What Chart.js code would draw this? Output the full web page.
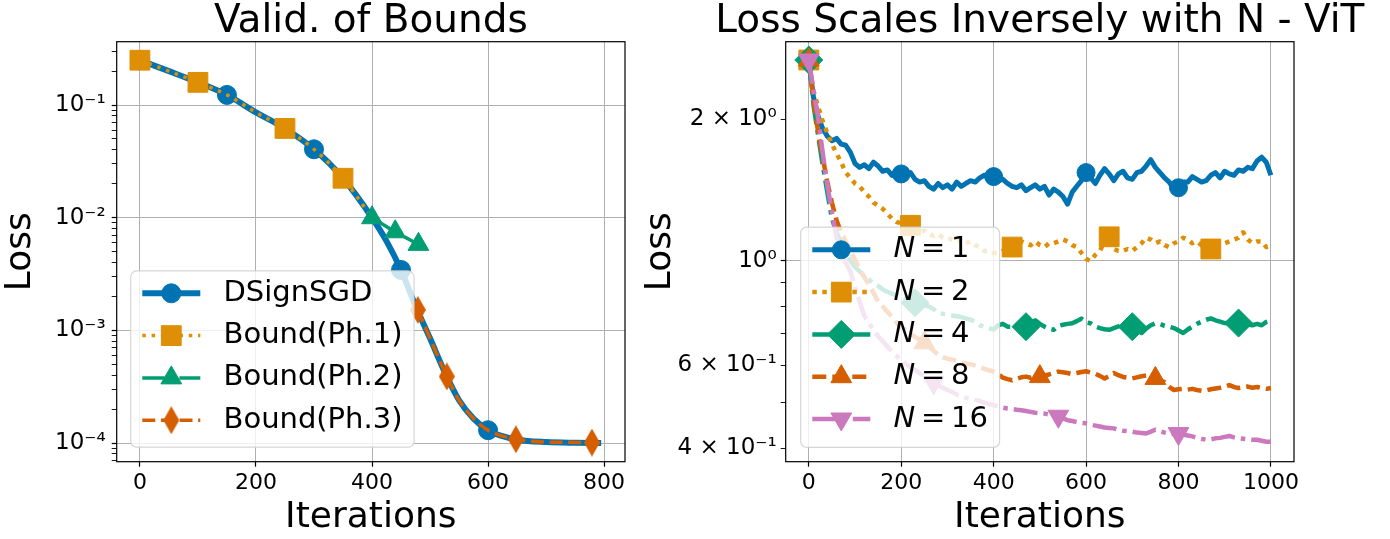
<!DOCTYPE html>
<html>
<head>
<meta charset="utf-8">
<script src="https://cdn.jsdelivr.net/npm/chart.js@4.4.1/dist/chart.umd.min.js"></script>
<style>
  html, body { margin: 0; padding: 0; background: #fff; overflow: hidden; }
  #wrap { position: relative; width: 1390px; height: 539px; overflow: hidden; background: #fff; }
  #leftChart { position: absolute; left: 0; top: 0; }
  #rightChart { position: absolute; left: 640px; top: 0; }
</style>
</head>
<body>
<div id="wrap">
  <canvas id="leftChart" width="640" height="539"></canvas>
  <canvas id="rightChart" width="750" height="539"></canvas>
</div>
<script>
// ---- 왼쪽: Valid. of Bounds ----
var signIters = [0, 50, 100, 150, 200, 250, 300, 350, 400, 425, 450, 475, 500, 525, 550, 575, 600, 625, 650, 700, 750, 795];
var signLoss = [0.25, 0.20, 0.159, 0.123, 0.086, 0.062, 0.0405, 0.0224, 0.0100, 0.0062, 0.00344, 0.00165, 0.00085, 0.00043, 0.00024, 0.000165, 0.00013, 0.000115, 0.000107, 0.000102, 0.0001005, 0.0001];
var ph1Iters = [0, 50, 100, 150, 200, 250, 300, 350, 400];
var ph1Loss = [0.25, 0.20, 0.159, 0.123, 0.086, 0.062, 0.0405, 0.0224, 0.0100];
var ph2Iters = [400, 440, 480];
var ph2Loss = [0.0100, 0.0075, 0.0058];
var ph3Iters = [479, 500, 529, 550, 575, 600, 648, 700, 779, 795];
var ph3Loss = [0.00152, 0.00085, 0.00039, 0.00024, 0.000165, 0.00013, 0.000108, 0.000102, 0.000101, 0.0001];

var signMarks = [0, 150, 300, 450, 600];
var ph1Marks = [0, 100, 250, 350];
var ph2Marks = [400, 440, 480];
var ph3Marks = [479, 529, 648, 779];

var xTicksL = [0, 200, 400, 600, 800];
var yTicksL = [1e-4, 1e-3, 1e-2, 1e-1];
var yLabelsL = ['10⁻⁴', '10⁻³', '10⁻²', '10⁻¹'];

// ---- 오른쪽: Loss Scales Inversely with N - ViT ----
var vitIters = [0, 10, 20, 30, 40, 50, 60, 70, 80, 90,
  100, 110, 120, 130, 140, 150, 160, 170, 180, 190,
  200, 210, 220, 230, 240, 250, 260, 270, 280, 290,
  300, 310, 320, 330, 340, 350, 360, 370, 380, 390,
  400, 410, 420, 430, 440, 450, 460, 470, 480, 490,
  500, 510, 520, 530, 540, 550, 560, 570, 580, 590,
  600, 610, 620, 630, 640, 650, 660, 670, 680, 690,
  700, 710, 720, 730, 740, 750, 760, 770, 780, 790,
  800, 810, 820, 830, 840, 850, 860, 870, 880, 890,
  900, 910, 920, 930, 940, 950, 960, 970, 980, 990,
  1000];
var lossN1 = [2.67, 2.23, 2.03, 1.91, 1.84, 1.80, 1.82, 1.77, 1.76, 1.70,
  1.61, 1.58, 1.60, 1.57, 1.62, 1.59, 1.55, 1.56, 1.52, 1.55,
  1.53, 1.51, 1.54, 1.49, 1.47, 1.48, 1.44, 1.42, 1.46, 1.43,
  1.45, 1.42, 1.47, 1.44, 1.46, 1.48, 1.47, 1.50, 1.52, 1.50,
  1.51, 1.48, 1.49, 1.46, 1.44, 1.43, 1.45, 1.41, 1.43, 1.45,
  1.42, 1.44, 1.38, 1.42, 1.40, 1.37, 1.32, 1.40, 1.44, 1.48,
  1.54, 1.50, 1.46, 1.52, 1.57, 1.53, 1.48, 1.53, 1.55, 1.50,
  1.49, 1.54, 1.55, 1.59, 1.64, 1.58, 1.54, 1.50, 1.47, 1.42,
  1.43, 1.47, 1.47, 1.51, 1.49, 1.47, 1.48, 1.52, 1.54, 1.50,
  1.55, 1.53, 1.52, 1.56, 1.55, 1.58, 1.57, 1.63, 1.66, 1.62,
  1.52];
var lossN2 = [2.67, 2.30, 2.13, 1.98, 1.87, 1.77, 1.69, 1.62, 1.54, 1.50,
  1.46, 1.44, 1.40, 1.37, 1.33, 1.31, 1.29, 1.26, 1.23, 1.21,
  1.20, 1.18, 1.19, 1.17, 1.15, 1.16, 1.14, 1.13, 1.14, 1.12,
  1.12, 1.11, 1.10, 1.11, 1.09, 1.10, 1.08, 1.07, 1.05, 1.05,
  1.04, 1.04, 1.05, 1.06, 1.07, 1.08, 1.10, 1.09, 1.08, 1.10,
  1.08, 1.07, 1.09, 1.09, 1.10, 1.11, 1.10, 1.08, 1.07, 1.04,
  1.01, 1.00, 1.03, 1.05, 1.10, 1.125, 1.06, 1.05, 1.05, 1.06,
  1.05, 1.07, 1.09, 1.12, 1.11, 1.09, 1.10, 1.08, 1.07, 1.09,
  1.10, 1.12, 1.11, 1.09, 1.10, 1.08, 1.07, 1.06, 1.08, 1.08,
  1.09, 1.10, 1.11, 1.12, 1.15, 1.11, 1.09, 1.10, 1.10, 1.07,
  1.08];
var lossN4 = [2.67, 2.15, 1.85, 1.60, 1.40, 1.23, 1.15, 1.09, 1.04, 1.00,
  0.97, 0.95, 0.93, 0.915, 0.895, 0.885, 0.87, 0.86, 0.852, 0.843,
  0.835, 0.828, 0.82, 0.815, 0.81, 0.805, 0.80, 0.79, 0.775, 0.772,
  0.77, 0.766, 0.763, 0.76, 0.755, 0.75, 0.742, 0.73, 0.725, 0.72,
  0.715, 0.73, 0.735, 0.725, 0.725, 0.73, 0.722, 0.725, 0.735, 0.748,
  0.735, 0.725, 0.718, 0.714, 0.728, 0.732, 0.735, 0.737, 0.745, 0.754,
  0.74, 0.737, 0.726, 0.72, 0.716, 0.714, 0.72, 0.726, 0.733, 0.73,
  0.725, 0.712, 0.703, 0.718, 0.73, 0.737, 0.735, 0.728, 0.725, 0.72,
  0.712, 0.703, 0.715, 0.725, 0.735, 0.743, 0.75, 0.755, 0.748, 0.743,
  0.738, 0.737, 0.742, 0.738, 0.74, 0.733, 0.73, 0.735, 0.73, 0.742,
  0.748];
var lossN8 = [2.67, 2.20, 1.88, 1.66, 1.47, 1.33, 1.22, 1.15, 1.10, 1.05,
  1.005, 0.96, 0.925, 0.89, 0.855, 0.82, 0.80, 0.78, 0.76, 0.74,
  0.725, 0.712, 0.70, 0.69, 0.68, 0.67, 0.658, 0.645, 0.632, 0.625,
  0.62, 0.617, 0.613, 0.609, 0.606, 0.603, 0.60, 0.596, 0.59, 0.586,
  0.582, 0.575, 0.565, 0.561, 0.558, 0.562, 0.566, 0.568, 0.565, 0.57,
  0.568, 0.571, 0.574, 0.578, 0.582, 0.58, 0.578, 0.575, 0.578, 0.581,
  0.583, 0.579, 0.576, 0.57, 0.563, 0.57, 0.578, 0.572, 0.567, 0.565,
  0.563, 0.566, 0.569, 0.571, 0.566, 0.563, 0.558, 0.553, 0.54, 0.532,
  0.534, 0.535, 0.533, 0.535, 0.532, 0.53, 0.531, 0.534, 0.536, 0.538,
  0.541, 0.545, 0.54, 0.537, 0.539, 0.541, 0.538, 0.54, 0.537, 0.535,
  0.537];
var lossN16 = [2.67, 2.30, 2.02, 1.70, 1.45, 1.27, 1.12, 1.05, 0.99, 0.95,
  0.88, 0.82, 0.765, 0.74, 0.712, 0.692, 0.675, 0.658, 0.643, 0.628,
  0.616, 0.605, 0.595, 0.587, 0.578, 0.57, 0.56, 0.551, 0.544, 0.538,
  0.532, 0.527, 0.52, 0.515, 0.512, 0.509, 0.507, 0.504, 0.5, 0.497,
  0.494, 0.491, 0.488, 0.486, 0.485, 0.483, 0.482, 0.48, 0.478, 0.476,
  0.475, 0.474, 0.472, 0.471, 0.468, 0.463, 0.459, 0.457, 0.455, 0.453,
  0.452, 0.449, 0.447, 0.445, 0.443, 0.442, 0.441, 0.438, 0.436, 0.435,
  0.434, 0.432, 0.431, 0.43, 0.434, 0.438, 0.435, 0.432, 0.43, 0.429,
  0.43, 0.428, 0.426, 0.424, 0.421, 0.419, 0.417, 0.418, 0.42, 0.421,
  0.423, 0.425, 0.422, 0.42, 0.419, 0.418, 0.417, 0.417, 0.415, 0.413,
  0.413];

var marksN1 = [0, 200, 400, 600, 800];
var marksN2 = [0, 220, 440, 650, 870];
var marksN4 = [0, 230, 470, 700, 930];
var marksN8 = [0, 250, 500, 750];
var marksN16 = [0, 270, 540, 800];

var xTicksR = [0, 200, 400, 600, 800, 1000];
var yTicksR = [0.4, 0.6, 1, 2];
var yLabelsR = ['4 × 10⁻¹', '6 × 10⁻¹', '10⁰', '2 × 10⁰'];

// seaborn colorblind
var BLUE = '#0173b2', ORANGE = '#de8f05', GREEN = '#029e73', RED = '#d55e00', PINK = '#cc78bc';
var GRID = '#b0b0b0';
var DOT = [3.5, 5.8], DASHDOT = [22.4, 5.6, 3.5, 5.6], DASH = [13, 5.6];
var DOT_R = [4.5, 5.5], DASHDOT_R = [24, 6, 4.5, 6], DASH_R = [14, 6];

Chart.defaults.font.family = 'DejaVu Sans';
Chart.defaults.color = '#000';

function pts(xs, ys) {
  return xs.map(function(x, i) { return { x: x, y: ys[i] }; });
}

function markAt(xs, marks, r) {
  return function(c) {
    return marks.indexOf(xs[c.dataIndex]) >= 0 ? r : 0;
  };
}

function isDecade(v) {
  var l = Math.log10(v);
  return Math.abs(l - Math.round(l)) < 1e-9;
}

// 로그축 눈금: 10^k 와 2..9 x 10^k
function logTicks(min, max) {
  var out = [];
  for (var e = Math.floor(Math.log10(min)); e <= Math.ceil(Math.log10(max)); e++) {
    for (var m = 1; m <= 9; m++) {
      var v = m * Math.pow(10, e);
      if (v >= min && v <= max) out.push({ value: v });
    }
  }
  return out;
}

function labelFor(list, labels) {
  return function(value) {
    for (var i = 0; i < list.length; i++) {
      if (Math.abs(value / list[i] - 1) < 1e-6) return labels[i];
    }
    return '';
  };
}

function thinDiamond(color, w, h) {
  var c = document.createElement('canvas');
  c.width = w;
  c.height = h;
  var g = c.getContext('2d');
  g.fillStyle = color;
  g.beginPath();
  g.moveTo(w / 2, 0);
  g.lineTo(w, h / 2);
  g.lineTo(w / 2, h);
  g.lineTo(0, h / 2);
  g.closePath();
  g.fill();
  return c;
}

function roundRect(ctx, x, y, w, h, r) {
  ctx.beginPath();
  ctx.moveTo(x + r, y);
  ctx.lineTo(x + w - r, y);
  ctx.arcTo(x + w, y, x + w, y + r, r);
  ctx.lineTo(x + w, y + h - r);
  ctx.arcTo(x + w, y + h, x + w - r, y + h, r);
  ctx.lineTo(x + r, y + h);
  ctx.arcTo(x, y + h, x, y + h - r, r);
  ctx.lineTo(x, y + r);
  ctx.arcTo(x, y, x + r, y, r);
  ctx.closePath();
}

// matplotlib 식 테두리 + 범례 + 제목(축 영역 가운데 정렬)
var frameLegend = {
  id: 'frameLegend',
  afterDatasetsDraw: function(chart, args, opts) {
    var ctx = chart.ctx, a = chart.chartArea;
    ctx.save();
    ctx.strokeStyle = '#000';
    ctx.lineWidth = 1.2;
    ctx.strokeRect(a.left, a.top, a.right - a.left, a.bottom - a.top);

    ctx.fillStyle = '#000';
    ctx.font = opts.titleSize + 'px "DejaVu Sans"';
    ctx.textAlign = 'center';
    ctx.textBaseline = 'middle';
    ctx.fillText(opts.title, (a.left + a.right) / 2, opts.titleY);

    var fs = opts.fontSize;
    var upright = fs + 'px "DejaVu Sans"';
    var oblique = 'italic ' + upright;
    var gap = 0.2 * fs;

    function parts(label) {
      if (!opts.mathLabels) return [{ t: label, f: upright }];
      var p = label.split('=');
      return [{ t: p[0].trim(), f: oblique }, { gap: gap }, { t: '=', f: upright }, { gap: gap }, { t: p[1].trim(), f: upright }];
    }
    function widthOf(ps) {
      var w = 0;
      ps.forEach(function(p) {
        if (p.gap) { w += p.gap; return; }
        ctx.font = p.f;
        w += ctx.measureText(p.t).width;
      });
      return w;
    }

    var sets = chart.data.datasets;
    var maxW = 0;
    sets.forEach(function(ds) { maxW = Math.max(maxW, widthOf(parts(ds.label))); });
    var pad = 0.4 * fs, hLen = 2 * fs, tPad = 0.8 * fs;
    var w = pad + hLen + tPad + maxW + pad;
    var h = opts.firstRow + (sets.length - 1) * opts.rowH + opts.lastRow;
    var x0 = a.left + opts.offsetX;
    var y0 = a.bottom - opts.offsetY - h;

    roundRect(ctx, x0, y0, w, h, 6);
    ctx.fillStyle = 'rgba(255,255,255,0.8)';
    ctx.fill();
    ctx.strokeStyle = 'rgba(204,204,204,0.8)';
    ctx.lineWidth = 1.2;
    ctx.stroke();

    sets.forEach(function(ds, i) {
      var cy = y0 + opts.firstRow + i * opts.rowH;
      var hx = x0 + pad;
      ctx.save();
      ctx.beginPath();
      ctx.setLineDash(ds.borderDash || []);
      ctx.lineWidth = ds.borderWidth;
      ctx.strokeStyle = ds.borderColor;
      ctx.lineCap = 'butt';
      ctx.moveTo(hx, cy);
      ctx.lineTo(hx + hLen, cy);
      ctx.stroke();
      ctx.setLineDash([]);
      ctx.fillStyle = ds.borderColor;
      ctx.lineWidth = 1;
      Chart.helpers.drawPoint(ctx, {
        pointStyle: ds.pointStyle,
        radius: ds.legendRadius,
        rotation: ds.pointRotation || 0,
        borderWidth: 1
      }, hx + hLen / 2, cy);
      ctx.restore();

      var tx = hx + hLen + tPad;
      ctx.fillStyle = '#000';
      ctx.textBaseline = 'middle';
      ctx.textAlign = 'left';
      parts(ds.label).forEach(function(p) {
        if (p.gap) { tx += p.gap; return; }
        ctx.font = p.f;
        ctx.fillText(p.t, tx, cy);
        tx += ctx.measureText(p.t).width;
      });
    });
    ctx.restore();
  }
};

function xScale(min, max, ticks) {
  return {
    type: 'linear',
    min: min,
    max: max,
    afterBuildTicks: function(s) { s.ticks = ticks.map(function(v) { return { value: v }; }); },
    afterFit: function(s) { s.height = 77.3; },
    grid: { color: GRID, lineWidth: 1, tickColor: '#000', tickLength: 5, tickWidth: 1.2 },
    border: { display: false },
    ticks: {
      autoSkip: false, maxRotation: 0, padding: 3, color: '#000',
      font: { size: 22 },
      callback: function(v) { return String(v); }
    },
    title: {
      display: true, text: 'Iterations', color: '#000',
      font: { size: 36, lineHeight: 1 },
      padding: { top: 0, bottom: 3 }
    }
  };
}

function yScale(min, max, width, ticks, labels, pad) {
  return {
    type: 'logarithmic',
    min: min,
    max: max,
    afterBuildTicks: function(s) { s.ticks = logTicks(min, max); },
    afterFit: function(s) { s.width = width; },
    grid: {
      color: function(c) { return c.tick && isDecade(c.tick.value) ? GRID : 'rgba(0,0,0,0)'; },
      lineWidth: 1,
      tickColor: '#000',
      tickLength: 5,
      tickWidth: function(c) { return c.tick && isDecade(c.tick.value) ? 1.2 : 0.9; }
    },
    border: { display: false },
    ticks: {
      autoSkip: false, padding: pad, color: '#000',
      font: { size: 23 },
      callback: labelFor(ticks, labels)
    },
    title: {
      display: true, text: 'Loss', color: '#000',
      font: { size: 36, lineHeight: 1 },
      padding: { top: 3, bottom: 0 }
    }
  };
}

function baseOptions(rightPad, x, y, legendOpts) {
  return {
    responsive: false,
    maintainAspectRatio: false,
    animation: false,
    events: [],
    layout: { padding: { left: 0, right: rightPad, top: 41.7, bottom: 0 } },
    scales: { x: x, y: y },
    plugins: {
      legend: { display: false },
      tooltip: { enabled: false },
      title: { display: false },
      frameLegend: legendOpts
    }
  };
}

var diamondThin = thinDiamond(RED, 16, 28);

var leftChart = new Chart(document.getElementById('leftChart'), {
  type: 'line',
  data: {
    datasets: [{
      label: 'DSignSGD',
      data: pts(signIters, signLoss),
      borderColor: BLUE, backgroundColor: BLUE, borderWidth: 6,
      pointStyle: 'circle', pointRadius: markAt(signIters, signMarks, 9.5), legendRadius: 9.5,
      pointBackgroundColor: BLUE, pointBorderColor: BLUE, pointBorderWidth: 1,
      cubicInterpolationMode: 'monotone', order: 4
    }, {
      label: 'Bound(Ph.1)',
      data: pts(ph1Iters, ph1Loss),
      borderColor: ORANGE, backgroundColor: ORANGE, borderWidth: 3.5, borderDash: DOT,
      pointStyle: 'rect', pointRadius: markAt(ph1Iters, ph1Marks, 14), legendRadius: 14,
      pointBackgroundColor: ORANGE, pointBorderColor: ORANGE, pointBorderWidth: 1,
      cubicInterpolationMode: 'monotone', order: 3
    }, {
      label: 'Bound(Ph.2)',
      data: pts(ph2Iters, ph2Loss),
      borderColor: GREEN, backgroundColor: GREEN, borderWidth: 3.5, borderDash: DASHDOT,
      pointStyle: 'triangle', pointRadius: markAt(ph2Iters, ph2Marks, 12), legendRadius: 12,
      pointBackgroundColor: GREEN, pointBorderColor: GREEN, pointBorderWidth: 1,
      cubicInterpolationMode: 'monotone', order: 2
    }, {
      label: 'Bound(Ph.3)',
      data: pts(ph3Iters, ph3Loss),
      borderColor: RED, backgroundColor: RED, borderWidth: 3.5, borderDash: DASH,
      pointStyle: diamondThin, pointRadius: markAt(ph3Iters, ph3Marks, 10), legendRadius: 10,
      pointBackgroundColor: RED, pointBorderColor: RED, pointBorderWidth: 1,
      cubicInterpolationMode: 'monotone', order: 1
    }]
  },
  options: baseOptions(14.3,
    xScale(-40, 836, xTicksL),
    yScale(6.83e-5, 0.365, 116.7, yTicksL, yLabelsL, 6),
    { title: 'Valid. of Bounds', titleSize: 39, titleY: 22,
      fontSize: 29, rowH: 42.3, firstRow: 22.5, lastRow: 27, offsetX: 14, offsetY: 14.5, mathLabels: false }),
  plugins: [frameLegend]
});

function vitSet(label, ys, color, width, dash, style, marks, r, rot, order) {
  return {
    label: label,
    data: pts(vitIters, ys),
    borderColor: color, backgroundColor: color, borderWidth: width, borderDash: dash,
    borderJoinStyle: 'round',
    pointStyle: style, pointRotation: rot, pointRadius: markAt(vitIters, marks, r), legendRadius: r,
    pointBackgroundColor: color, pointBorderColor: color, pointBorderWidth: 1,
    order: order
  };
}

var rightChart = new Chart(document.getElementById('rightChart'), {
  type: 'line',
  data: {
    datasets: [
      vitSet('N = 1', lossN1, BLUE, 5, [], 'circle', marksN1, 9, 0, 5),
      vitSet('N = 2', lossN2, ORANGE, 4.5, DOT_R, 'rect', marksN2, 14, 0, 4),
      vitSet('N = 4', lossN4, GREEN, 4.5, DASHDOT_R, 'rectRot', marksN4, 14, 0, 3),
      vitSet('N = 8', lossN8, RED, 4.5, DASH_R, 'triangle', marksN8, 12, 0, 2),
      vitSet('N = 16', lossN16, PINK, 4.5, DASHDOT_R, 'triangle', marksN16, 12, 180, 1)
    ]
  },
  options: baseOptions(96,
    xScale(-50, 1050, xTicksR),
    yScale(0.3747, 2.92, 145.7, yTicksR, yLabelsR, 4),
    { title: 'Loss Scales Inversely with N - ViT', titleSize: 39, titleY: 22,
      fontSize: 29, rowH: 42.3, firstRow: 22.7, lastRow: 28.3, offsetX: 15, offsetY: 14.4, mathLabels: true }),
  plugins: [frameLegend]
});
</script>
</body>
</html>
